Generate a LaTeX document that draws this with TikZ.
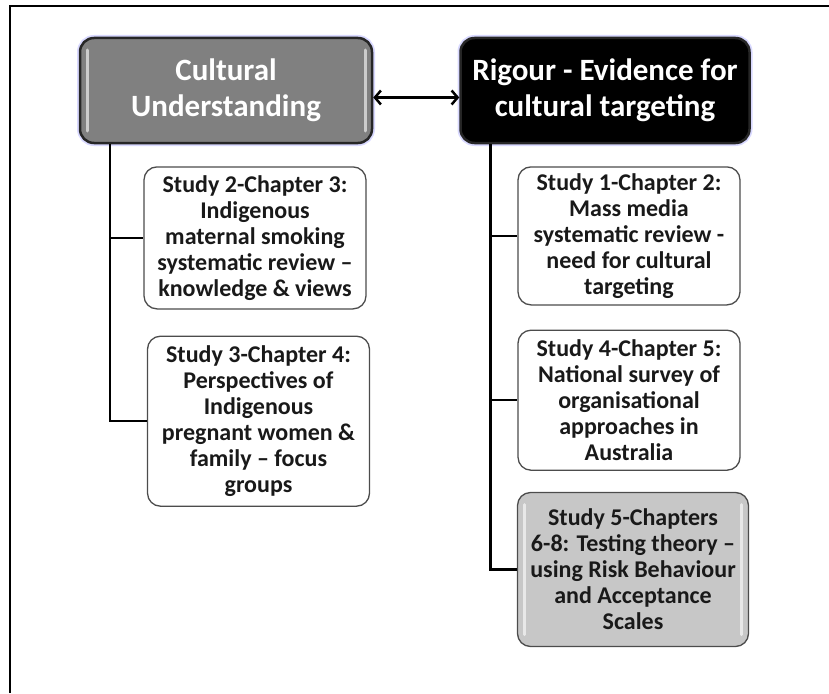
\documentclass[tikz,border=0pt]{standalone}
\usepackage{fontspec}
\setmainfont{Carlito}
\usetikzlibrary{arrows.meta, positioning}

\begin{document}
\begin{tikzpicture}[
	x=1pt, y=-1pt,
	head/.style={draw=black!85, line width=2.5pt, rounded corners=14pt, minimum width=292pt, minimum height=105pt, align=center, text=white, font=\fontsize{31}{36}\selectfont\bfseries, preaction={draw=blue!15, line width=6pt}},
	study/.style={draw=black!70, line width=1.3pt, rounded corners=13pt, minimum width=222pt, inner xsep=2pt, align=center, fill=white, text=black!90, font=\fontsize{24}{26}\selectfont\bfseries},
	gloss/.style={path picture={
		\draw[white, opacity=.6, line width=3pt, line cap=round] ([xshift=7pt,yshift=-12pt]path picture bounding box.north west) -- ([xshift=7pt,yshift=12pt]path picture bounding box.south west);
		\draw[white, opacity=.6, line width=3pt, line cap=round] ([xshift=-7pt,yshift=-12pt]path picture bounding box.north east) -- ([xshift=-7pt,yshift=12pt]path picture bounding box.south east);}},
	link/.style={line width=2.5pt},
	arrow/.style={{Straight Barb[length=6pt,width=14pt]}-{Straight Barb[length=6pt,width=14pt]}, line width=2.5pt}
]
	\useasboundingbox (0,0) rectangle (829,693);
	\draw[line width=2pt] (10,693) -- (10,6) -- (829,6);

	\node (cult) [head, gloss, fill=black!50] at (226,90.5) {Cultural\\Understanding};
	\node (rig) [head, fill=black, minimum width=289pt, right=86pt of cult] {Rigour - Evidence for\\cultural targeting};

	\node (s2) [study, minimum height=142pt, below=22pt of cult, xshift=29pt] {Study 2-Chapter 3:\\Indigenous\\maternal smoking\\systematic review --\\knowledge \& views};
	\node (s3) [study, minimum height=170pt, below=26pt of s2, xshift=3.5pt] {Study 3-Chapter 4:\\Perspectives of\\Indigenous\\pregnant women \&\\family -- focus\\groups};

	\node (s1) [study, minimum height=138pt, below=22pt of rig, xshift=24pt] {Study 1-Chapter 2:\\Mass media\\systematic review -\\need for cultural\\targeting};
	\node (s4) [study, minimum height=140pt, below=24pt of s1] {Study 4-Chapter 5:\\National survey of\\organisational\\approaches in\\Australia};
	\node (s5) [study, gloss, fill=black!22, minimum width=231pt, minimum height=154pt, below=21pt of s4, xshift=4pt] {Study 5-Chapters\\6-8: Testing theory --\\using Risk Behaviour\\and Acceptance\\Scales};

	\draw [arrow] ([yshift=-7pt]cult.east) -- ([yshift=-7pt]rig.west);

	\draw [link] ([xshift=-116pt]cult.south) |- (s2.west);
	\draw [link] ([xshift=-116pt]cult.south) |- (s3.west);
	\draw [link] ([xshift=-114.5pt]rig.south) |- (s1.west);
	\draw [link] ([xshift=-114.5pt]rig.south) |- (s4.west);
	\draw [link] ([xshift=-114.5pt]rig.south) |- (s5.west);

\end{tikzpicture}
\end{document}
